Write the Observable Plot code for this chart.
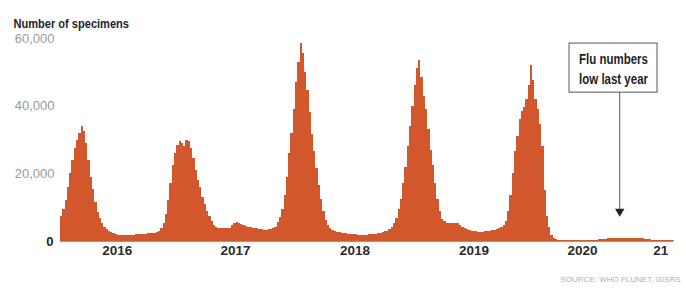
<!DOCTYPE html>
<html><head><meta charset="utf-8">
<script src="https://cdn.jsdelivr.net/npm/d3@7"></script>
<script src="https://cdn.jsdelivr.net/npm/@observablehq/plot@0.6"></script>
<style>body{margin:0;background:#fff} svg{display:block}</style>
</head><body><div id="chart"></div>
<script>
const title = "Number of specimens";
const source = "SOURCE: WHO FLUNET, GISRS";
const firstWeek = "2016-01-10";
const lastDay = "2021-03-05";
const weeklySpecimens = [
  7500, 9500, 12000, 16000, 20000, 24000, 27500, 30000, 32000, 34000,
  32500, 29000, 24000, 19000, 15500, 11500, 8500, 6800, 5200, 4200,
  3500, 3000, 2700, 2300, 2000, 1800, 1800, 1700, 1800, 1800,
  1900, 1800, 1900, 2000, 2000, 2100, 2200, 2200, 2300, 2300,
  2400, 2500, 2700, 3000, 3800, 5300, 8000, 12000, 17000, 22500,
  26000, 28500, 29500, 29000, 28200, 30000, 29500, 27500, 24500, 21000,
  18000, 16000, 13000, 11000, 9000, 7500, 5800, 4700, 4200, 3900,
  3800, 3700, 3700, 3800, 3900, 4600, 5300, 5500, 5300, 5000,
  4700, 4400, 4200, 4000, 3900, 3800, 3700, 3500, 3400, 3300,
  3300, 3400, 3600, 3800, 4200, 5500, 7200, 9500, 13500, 19000,
  26000, 32000, 39000, 47000, 53000, 58500, 55500, 50000, 44500, 38000,
  31500, 26500, 21500, 16500, 12500, 8800, 6300, 4600, 3700, 3200,
  2900, 2700, 2600, 2500, 2400, 2300, 2200, 2100, 2000, 2000,
  1900, 1900, 1800, 1800, 1900, 2000, 2000, 2100, 2200, 2300,
  2500, 2700, 2900, 3100, 3500, 4200, 5200, 6800, 9500, 12500,
  17000, 22000, 28000, 34000, 40000, 46000, 51000, 53500, 48500, 43000,
  39000, 33000, 27000, 22500, 17000, 12500, 9000, 6600, 5800, 5400,
  5300, 5300, 5400, 5300, 5200, 4600, 4200, 3900, 3600, 3300,
  3100, 3000, 2900, 2800, 2800, 2800, 2900, 3000, 3100, 3200,
  3300, 3500, 3800, 4100, 4800, 6000, 9000, 13500, 20000, 26500,
  31000, 36000, 38500, 39500, 42000, 46000, 52000, 47500, 42000, 39000,
  34500, 28000, 15000, 7500, 4000, 1800, 900, 500, 350, 300,
  280, 260, 250, 250, 240, 240, 250, 250, 260, 270,
  280, 290, 300, 320, 350, 400, 450, 550, 650, 700,
  750, 750, 800, 800, 800, 800, 800, 800, 800, 800,
  800, 800, 800, 800, 800, 750, 700, 650, 500, 300,
  250, 220, 200, 200, 200, 200, 200, 200, 200
];
const yTicks = [0, 20000, 40000, 60000];
const yearLabels = ["2016", "2017", "2018", "2019", "2020", "21"];
const yearLabelDates = ["2016-07-02", "2017-06-30", "2018-07-02", "2019-07-02", "2020-05-30", "2021-01-25"];
const noteLines = ["Flu numbers", "low last year"];
const noteBoxDates = ["2020-04-20", "2021-01-15"];
const noteBoxValues = [44000, 58500];
const noteTextDate = "2020-09-02";
const noteTextValue = 51400;
const arrowDate = "2020-09-21";
const arrowValues = [44000, 9500];
const arrowHeadValue = 8900;

const start = new Date(firstWeek);
const weeks = weeklySpecimens.map((v, i) => ({date: d3.utcDay.offset(start, 7 * i), value: v}));
weeks.push({date: d3.utcDay.offset(start, 7 * weeklySpecimens.length), value: weeklySpecimens[weeklySpecimens.length - 1]});

const sans = "'Liberation Sans', Arial, sans-serif";
const fill = "#d2572c";

const chart = Plot.plot({
  width: 686,
  height: 289,
  marginTop: 38,
  marginBottom: 48,
  marginLeft: 60,
  marginRight: 13,
  style: {fontFamily: sans, background: "#fff"},
  x: {type: "utc", domain: [new Date(firstWeek), new Date(lastDay)], axis: null},
  y: {domain: [0, 60000], axis: null, label: null},
  marks: [
    Plot.ruleY([0], {stroke: "#9a9a9a", strokeWidth: 1}),
    Plot.areaY(weeks, {x: "date", y: "value", curve: "step-after", fill, shapeRendering: "crispEdges"}),
    Plot.axisY(yTicks.filter(d => d > 0), {label: null, tickSize: 0, tickPadding: 6, tickFormat: d3.format(","), fill: "#9a9a9a", fontSize: 13}),
    Plot.axisY([0], {label: null, tickSize: 0, tickPadding: 7, fill: "#222", fontSize: 13, fontWeight: "bold"}),
    Plot.text(yearLabels, {x: (d, i) => new Date(yearLabelDates[i]), text: d => d, frameAnchor: "bottom", dy: 13, fontSize: 13.5, fontWeight: "bold", fill: "#2a2a2a"}),
    Plot.text([title], {frameAnchor: "top-left", dx: -47, dy: -20, textAnchor: "start", fontSize: 13.5, fontWeight: "bold", fill: "#1c2630"}),
    Plot.text([source], {frameAnchor: "bottom-right", dx: 7, dy: 40, textAnchor: "end", fontSize: 8, fill: "#b0b0b0"}),
    Plot.ruleX([arrowDate], {x: d => new Date(d), y1: arrowValues[0], y2: arrowValues[1], stroke: "#555", strokeWidth: 1}),
    Plot.dot([arrowDate], {x: d => new Date(d), y: arrowHeadValue, symbol: "triangle", rotate: 180, r: 3.5, fill: "#222", stroke: "none"}),
    Plot.rect([0], {x1: () => new Date(noteBoxDates[0]), x2: () => new Date(noteBoxDates[1]), y1: noteBoxValues[0], y2: noteBoxValues[1], fill: "#fff", stroke: "#555", strokeWidth: 1}),
    Plot.text([noteLines.join("\n")], {x: () => new Date(noteTextDate), y: noteTextValue, lineHeight: 1.45, fontSize: 14, fontWeight: "bold", fill: "#222"})
  ]
});
// emulate the narrow newspaper typeface for the title and the note
const narrow = new Set([title, noteLines.join("")]);
chart.querySelectorAll("text").forEach(t => {
  if (narrow.has(t.textContent)) {
    const tr = t.getAttribute("transform") || "";
    t.setAttribute("transform", tr + " scale(0.82,1)");
  }
});
document.getElementById("chart").append(chart);
</script>
</body></html>
